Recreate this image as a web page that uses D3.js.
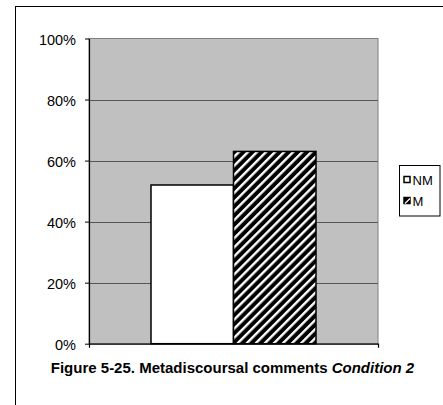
<!DOCTYPE html>
<html>
<head>
<meta charset="utf-8">
<script src="https://cdn.jsdelivr.net/npm/d3@7"></script>
<style>
  html, body { margin: 0; padding: 0; background: #fff; }
  svg { display: block; font-family: Arial, "Liberation Sans", sans-serif; }
</style>
</head>
<body>
<svg id="chart" width="443" height="405"></svg>
<script>
// Share of metadiscoursal comments, Condition 2
const categories = ["Condition 2"];
const series = ["NM", "M"];
const values = [0.52, 0.63];          // NM, M
const tickValues = [0, 0.2, 0.4, 0.6, 0.8, 1.0];
const tickLabels = ["0%", "20%", "40%", "60%", "80%", "100%"];
const titleMain = "Figure 5-25. Metadiscoursal comments ";
const titleItalic = "Condition 2";

const svg = d3.select("#chart");
const plot = { left: 89, right: 378, top: 38.5, bottom: 343.7 };

// hatched fill for the M series
const defs = svg.append("defs");
const pat = defs.append("pattern")
  .attr("id", "hatch")
  .attr("patternUnits", "userSpaceOnUse")
  .attr("width", 6.4).attr("height", 6.4)
  .attr("patternTransform", "rotate(45)");
pat.append("rect").attr("width", 6.4).attr("height", 6.4).attr("fill", "#000");
pat.append("rect").attr("x", 0).attr("width", 2.4).attr("height", 6.4).attr("fill", "#fff");

// outer frame (runs off the right and bottom edges)
svg.append("rect")
  .attr("x", 15.5).attr("y", 6.5)
  .attr("width", 600).attr("height", 600)
  .attr("fill", "none").attr("stroke", "#000").attr("stroke-width", 1);

const y = d3.scaleLinear().domain([0, 1]).range([plot.bottom, plot.top]);
const x = d3.scaleBand().domain(categories)
  .range([plot.left, plot.right]).paddingOuter(0.3757).paddingInner(0);
const xs = d3.scaleBand().domain(series).range([0, x.bandwidth()]).padding(0);

// plot area
svg.append("rect")
  .attr("x", plot.left).attr("y", plot.top)
  .attr("width", plot.right - plot.left).attr("height", plot.bottom - plot.top)
  .attr("fill", "#c0c0c0").attr("stroke", "#808080").attr("stroke-width", 1);

// gridlines
svg.append("g").selectAll("line")
  .data(tickValues.filter(v => v > 0 && v < 1))
  .join("line")
  .attr("x1", plot.left).attr("x2", plot.right)
  .attr("y1", d => Math.round(y(d)) + 0.5).attr("y2", d => Math.round(y(d)) + 0.5)
  .attr("stroke", "#555").attr("stroke-width", 1);

// bars
const fills = { NM: "#fff", M: "url(#hatch)" };
const barData = series.map((s, i) => ({ cat: categories[0], s, v: values[i] }));
svg.append("g").selectAll("rect")
  .data(barData)
  .join("rect")
  .attr("x", d => x(d.cat) + xs(d.s))
  .attr("y", d => y(d.v))
  .attr("width", xs.bandwidth())
  .attr("height", d => y(0) - y(d.v))
  .attr("fill", d => fills[d.s])
  .attr("stroke", "#000").attr("stroke-width", 1.5);

// value axis
const yAxis = d3.axisLeft(y)
  .tickValues(tickValues)
  .tickFormat((d, i) => tickLabels[i])
  .tickSize(4).tickSizeOuter(0).tickPadding(9);
const gy = svg.append("g").attr("transform", `translate(${plot.left},0)`).call(yAxis);
gy.select(".domain").attr("stroke", "#000").attr("stroke-width", 1.2);
gy.selectAll(".tick line").attr("stroke", "#000");
gy.selectAll(".tick text")
  .attr("font-family", "Arial, 'Liberation Sans', sans-serif")
  .attr("font-size", 14.5).attr("fill", "#000").attr("dy", "0.4em");

// category axis
const xAxis = d3.axisBottom(x).tickValues([]).tickSizeOuter(4);
const gx = svg.append("g").attr("transform", `translate(0,${plot.bottom})`).call(xAxis);
gx.select(".domain").attr("stroke", "#000").attr("stroke-width", 1.2);

// legend
const lg = svg.append("g").attr("transform", "translate(399.5,165.5)");
lg.append("rect").attr("width", 40.5).attr("height", 50.5)
  .attr("fill", "#fff").attr("stroke", "#000").attr("stroke-width", 1);
const lrow = d3.scalePoint().domain(series).range([14.5, 35.5]);
const li = lg.selectAll("g.item").data(series).join("g")
  .attr("class", "item")
  .attr("transform", d => `translate(4,${lrow(d)})`);
li.append("rect").attr("x", 0.5).attr("y", -3.5).attr("width", 6).attr("height", 6)
  .attr("fill", d => d === "M" ? "#000" : "#fff")
  .attr("stroke", "#000").attr("stroke-width", 1.5);
li.filter(d => d === "M").append("path")
  .attr("d", "M1.5,2.5 L6.5,-2.5").attr("stroke", "#fff").attr("stroke-width", 1.2);
li.append("text").attr("x", 9).attr("y", 0).attr("dy", "0.36em")
  .attr("font-size", 13).attr("fill", "#000").text(d => d);

// caption
const cap = svg.append("text")
  .attr("x", (plot.left + plot.right) / 2 - 1).attr("y", 372.5)
  .attr("text-anchor", "middle")
  .attr("font-size", 15).attr("font-weight", "bold").attr("fill", "#000");
cap.append("tspan").text(titleMain);
cap.append("tspan").attr("font-style", "italic").text(titleItalic);
</script>
</body>
</html>
